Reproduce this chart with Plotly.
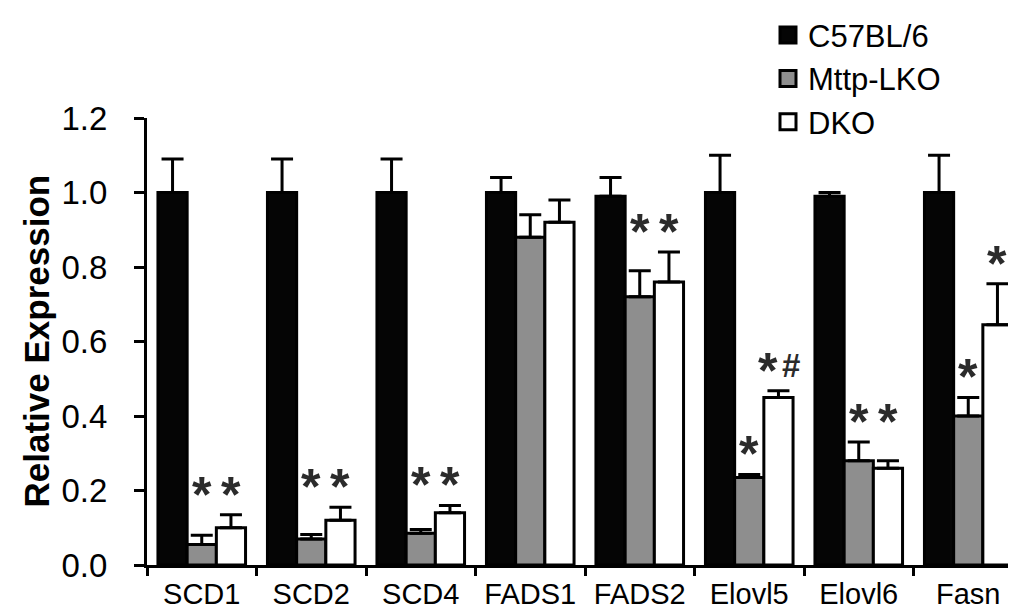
import plotly.graph_objects as go

categories = ["SCD1", "SCD2", "SCD4", "FADS1", "FADS2", "Elovl5", "Elovl6", "Fasn"]
series_names = ["C57BL/6", "Mttp-LKO", "DKO"]
c57 = [1.00, 1.00, 1.00, 1.00, 0.99, 1.00, 0.99, 1.00]
c57_err = [0.09, 0.09, 0.09, 0.04, 0.05, 0.10, 0.01, 0.10]
mttp = [0.055, 0.07, 0.085, 0.88, 0.72, 0.235, 0.28, 0.40]
mttp_err = [0.025, 0.012, 0.01, 0.06, 0.07, 0.008, 0.05, 0.05]
dko = [0.10, 0.12, 0.14, 0.92, 0.76, 0.45, 0.26, 0.645]
dko_err = [0.035, 0.035, 0.02, 0.06, 0.08, 0.018, 0.02, 0.11]
sig_mttp = ["*", "*", "*", "", "*", "*", "*", "*"]
sig_dko = ["*", "*", "*", "", "*", "*#", "*", "*"]
y_ticks = [0.0, 0.2, 0.4, 0.6, 0.8, 1.0, 1.2]

FONT = "Liberation Sans, Arial, sans-serif"
W, H = 1016, 612
ML, MR, MT, MB = 139, 1, 100, 55
BARGAP = 0.2

fig = go.Figure()
colors = ["#050505", "#8e8e8e", "#ffffff"]
vals = [c57, mttp, dko]
errs = [c57_err, mttp_err, dko_err]
for name, col, v, e in zip(series_names, colors, vals, errs):
    fig.add_trace(go.Bar(
        x=categories, y=v, name=name, showlegend=False,
        marker=dict(color=col, line=dict(color="#000000", width=3)),
        error_y=dict(type="data", array=e, arrayminus=[0] * len(e), symmetric=False,
                     color="#000000", thickness=3, width=11, visible=True),
    ))
# legend entries (square swatches)
for name, col in zip(series_names, colors):
    fig.add_trace(go.Scatter(
        x=[None], y=[None], mode="markers", name=name, showlegend=True,
        marker=dict(symbol="square", size=16, color=col, line=dict(color="#000000", width=3)),
    ))

plot_w = W - ML - MR
plot_h = H - MT - MB
cat_w = plot_w / len(categories)
bar_w = cat_w * (1 - BARGAP) / 3

STAR_SHIFT = -10
annotations = []
for i, cat in enumerate(categories):
    top_m = mttp[i] + mttp_err[i]
    top_d = dko[i] + dko_err[i]
    sm, sd = sig_mttp[i], sig_dko[i]
    if sm and sd and abs(top_m - top_d) < 0.1:
        ym = yd = max(top_m, top_d)
    else:
        ym, yd = top_m, top_d
    for s, y, shift in [(sm, ym, 0.0), (sd, yd, bar_w)]:
        if not s:
            continue
        stars = s.replace("#", "")
        extra = s.replace("*", "")
        annotations.append(dict(
            x=cat, y=y, xref="x", yref="y", text="<b>" + stars + "</b>", showarrow=False,
            xshift=shift - (10 if extra else 0), yshift=STAR_SHIFT, yanchor="bottom", xanchor="center",
            font=dict(family=FONT, size=50, color="#2b2b2b"),
        ))
        if extra:
            annotations.append(dict(
                x=cat, y=y, xref="x", yref="y", text="<b>" + extra + "</b>", showarrow=False,
                xshift=shift + 13, yshift=STAR_SHIFT + 15, yanchor="bottom", xanchor="center",
                font=dict(family=FONT, size=33, color="#2b2b2b"),
            ))

annotations.append(dict(
    x=(28 - ML) / plot_w, y=0.5, xref="paper", yref="paper",
    text="<b>Relative Expression</b>", textangle=-90, showarrow=False,
    xanchor="center", yanchor="middle",
    font=dict(family=FONT, size=35, color="#000000"),
))

fig.update_layout(
    width=W, height=H,
    margin=dict(l=ML, r=MR, t=MT, b=MB),
    paper_bgcolor="#ffffff", plot_bgcolor="#ffffff",
    barmode="group", bargap=BARGAP, bargroupgap=0,
    showlegend=True,
    legend=dict(x=(760 - ML) / plot_w, y=1 + (MT + 12) / plot_h, xanchor="left", yanchor="top",
                font=dict(family=FONT, size=31, color="#000000"), bgcolor="rgba(0,0,0,0)",
                traceorder="normal", itemclick=False, itemwidth=30),
    annotations=annotations,
    xaxis=dict(type="category", range=[-0.5, len(categories) - 0.5],
               showline=True, linecolor="#000000", linewidth=3,
               ticks="outside", tickson="boundaries", ticklen=8, tickwidth=3, tickcolor="#000000",
               ticklabelstandoff=1,
               tickfont=dict(family=FONT, size=29, color="#000000"), showgrid=False),
    yaxis=dict(range=[0, 1.2], tickvals=y_ticks, ticktext=[f"{t:.1f}" for t in y_ticks],
               showline=True, linecolor="#000000", linewidth=3,
               ticks="outside", ticklen=10, tickwidth=3, tickcolor="#000000",
               ticklabelstandoff=20,
               tickfont=dict(family=FONT, size=33, color="#000000"),
               showgrid=False, zeroline=False),
)

fig.write_html("out.html")
